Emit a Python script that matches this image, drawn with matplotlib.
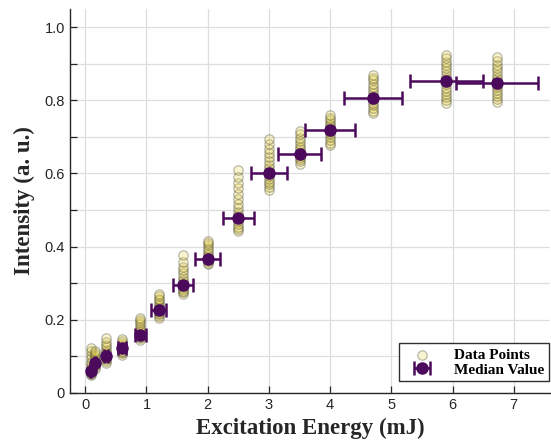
import matplotlib
matplotlib.use("Agg")
import matplotlib.pyplot as plt
import numpy as np

# excitation energies (mJ) and horizontal uncertainty
energy = [0.09, 0.16, 0.34, 0.6, 0.9, 1.2, 1.6, 2.0, 2.5, 3.0, 3.5, 4.0, 4.7, 5.9, 6.72]
energy_err = [0.01, 0.015, 0.035, 0.06, 0.09, 0.12, 0.16, 0.2, 0.25, 0.3, 0.35, 0.41, 0.47, 0.59, 0.67]
median = [0.06, 0.083, 0.102, 0.122, 0.159, 0.227, 0.294, 0.365, 0.478, 0.60, 0.654, 0.72, 0.806, 0.854, 0.848]

# all measured intensities per energy
points = [
    [0.048, 0.052, 0.055, 0.058, 0.06, 0.062, 0.065, 0.068, 0.072, 0.078, 0.085, 0.095, 0.105, 0.115, 0.123],
    [0.065, 0.07, 0.075, 0.078, 0.082, 0.085, 0.088, 0.092, 0.097, 0.103, 0.108, 0.115],
    [0.082, 0.088, 0.092, 0.096, 0.1, 0.102, 0.105, 0.108, 0.112, 0.118, 0.125, 0.132, 0.14, 0.15],
    [0.105, 0.11, 0.113, 0.116, 0.119, 0.122, 0.125, 0.128, 0.132, 0.137, 0.142, 0.147],
    [0.146, 0.15, 0.153, 0.156, 0.159, 0.162, 0.166, 0.17, 0.175, 0.181, 0.188, 0.195, 0.2, 0.206],
    [0.205, 0.21, 0.215, 0.219, 0.223, 0.227, 0.231, 0.236, 0.241, 0.247, 0.253, 0.258, 0.264, 0.27],
    [0.27, 0.275, 0.28, 0.285, 0.29, 0.294, 0.298, 0.304, 0.31, 0.318, 0.327, 0.335, 0.345, 0.358, 0.378],
    [0.352, 0.356, 0.36, 0.363, 0.365, 0.368, 0.372, 0.377, 0.383, 0.39, 0.397, 0.404, 0.41, 0.416],
    [0.443, 0.448, 0.455, 0.462, 0.47, 0.478, 0.486, 0.495, 0.505, 0.517, 0.53, 0.545, 0.56, 0.575, 0.59, 0.61],
    [0.556, 0.563, 0.57, 0.578, 0.586, 0.594, 0.6, 0.607, 0.615, 0.624, 0.634, 0.645, 0.656, 0.668, 0.68, 0.694],
    [0.627, 0.633, 0.64, 0.646, 0.651, 0.655, 0.66, 0.666, 0.673, 0.681, 0.69, 0.698, 0.707, 0.716],
    [0.677, 0.684, 0.692, 0.7, 0.708, 0.714, 0.72, 0.726, 0.732, 0.739, 0.746, 0.753, 0.76],
    [0.765, 0.772, 0.779, 0.786, 0.793, 0.8, 0.806, 0.812, 0.82, 0.828, 0.836, 0.845, 0.855, 0.862, 0.868],
    [0.792, 0.8, 0.808, 0.817, 0.826, 0.835, 0.845, 0.854, 0.862, 0.87, 0.879, 0.888, 0.897, 0.906, 0.915, 0.925],
    [0.796, 0.804, 0.812, 0.82, 0.828, 0.836, 0.843, 0.848, 0.855, 0.862, 0.87, 0.879, 0.888, 0.897, 0.907, 0.918],
]

purple = '#4b0a5c'
axcol = '#262626'

fig = plt.figure(figsize=(5.51, 4.46), dpi=100)
ax = fig.add_axes([0.127, 0.119, 0.872, 0.861])

xs = []
ys = []
for e, vals in zip(energy, points):
    xs += [e] * len(vals)
    ys += vals
ax.scatter(xs, ys, s=46, facecolor=(0.9, 0.82, 0.3, 0.26),
           edgecolor=(0.22, 0.22, 0.12, 0.33), linewidths=0.9,
           label='Data Points', zorder=3)

ax.errorbar(energy, median, xerr=energy_err, fmt='o', color=purple,
            markersize=8, elinewidth=1.8, capsize=5.2, capthick=1.8,
            label='Median Value', zorder=4)

ax.set_xlim(-0.25, 7.6)
ax.set_ylim(0, 1.05)
ax.set_xticks(range(8))
ax.set_yticks([0, 0.2, 0.4, 0.6, 0.8, 1.0])
ax.set_yticklabels(['0', '0.2', '0.4', '0.6', '0.8', '1.0'])
ax.set_yticks(np.arange(0.1, 1.0, 0.2), minor=True)
ax.grid(True, which='both', color='#dedede', linewidth=0.9)
ax.set_axisbelow(True)

for s in ['top', 'right']:
    ax.spines[s].set_visible(False)
for s in ['left', 'bottom']:
    ax.spines[s].set_color(axcol)
    ax.spines[s].set_linewidth(1.0)
ax.tick_params(which='both', direction='in', length=5, width=0.9,
               color=axcol, labelcolor=axcol, labelsize=10.5)
for lbl in ax.get_xticklabels() + ax.get_yticklabels():
    lbl.set_family('Liberation Sans')

ax.set_xlabel('Excitation Energy (mJ)', fontsize=16.5, fontweight='bold',
              family='Liberation Serif', color=axcol, labelpad=4)
ax.set_ylabel('Intensity (a. u.)', fontsize=16.5, fontweight='bold',
              family='Liberation Serif', color=axcol, labelpad=7)

leg = ax.legend(loc='lower right', bbox_to_anchor=(0.997, 0.03),
                prop={'family': 'Liberation Serif', 'weight': 'bold', 'size': 11},
                fancybox=False, framealpha=1, edgecolor='#303030',
                borderpad=0.3, labelspacing=0.1, handletextpad=0.9,
                handlelength=2.4, borderaxespad=0)
leg.get_frame().set_linewidth(1.0)

fig.savefig('out.png', dpi=100)
